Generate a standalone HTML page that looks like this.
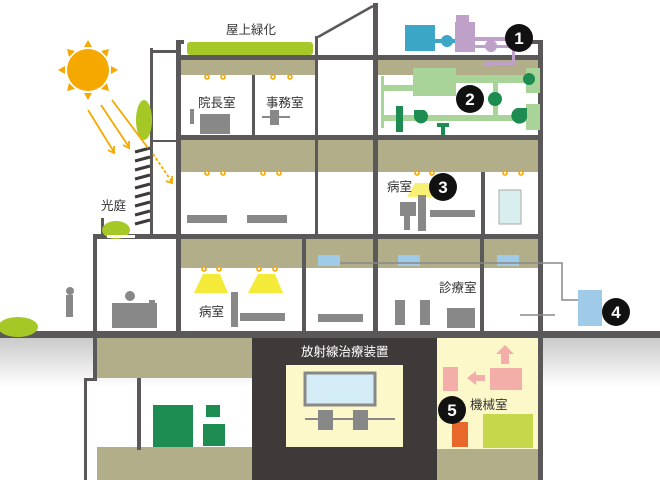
<!DOCTYPE html>
<html><head><meta charset="utf-8"><style>
html,body{margin:0;padding:0;background:#fff;}
svg{display:block;}
text{font-family:"Liberation Sans","Noto Sans CJK JP",sans-serif;fill:#333;font-size:12.5px;}
</style></head><body>
<svg width="660" height="480" viewBox="0 0 660 480" xmlns="http://www.w3.org/2000/svg">
<defs>
<linearGradient id="g" x1="0" y1="0" x2="0" y2="1"><stop offset="0" stop-color="#c9c9c9"/><stop offset="1" stop-color="#fff"/></linearGradient>
</defs>
<!-- underground gradient -->
<rect x="0" y="337" width="660" height="50" fill="url(#g)"/>
<!-- khaki bands -->
<g fill="#b3ae8a">
<rect x="181" y="60" width="134" height="15"/>
<rect x="378" y="60" width="162" height="15"/>
<rect x="181" y="140" width="359" height="32"/>
<rect x="181" y="239" width="359" height="29"/>
<rect x="97" y="338" width="155" height="40"/>
<rect x="97" y="447" width="155" height="33"/>
<rect x="437" y="449" width="103" height="31"/>
</g>
<!-- dark radiation room -->
<rect x="252" y="338" width="185" height="142" fill="#3d3a39"/>
<rect x="286" y="365" width="117" height="82" fill="#fdf8c9"/>
<rect x="437" y="338" width="103" height="111" fill="#fdf8c9"/>
<!-- structure -->
<g fill="#5a5858">
<rect x="0" y="331" width="660" height="7"/>
<rect x="176" y="40" width="5" height="293"/>
<rect x="176" y="40" width="8" height="4"/>
<rect x="315" y="36" width="3" height="100"/>
<rect x="315" y="140" width="3" height="95"/>
<rect x="373" y="3" width="5" height="330"/>
<rect x="538" y="40" width="5" height="440"/>
<rect x="530" y="40" width="10" height="4"/>
<rect x="176" y="55" width="367" height="5"/>
<rect x="176" y="135" width="367" height="5"/>
<rect x="93" y="234" width="450" height="5"/>
<rect x="252" y="75" width="3" height="60"/>
<rect x="150" y="48" width="3" height="188"/>
<rect x="150" y="50" width="28" height="3"/>
<rect x="150" y="140" width="28" height="2"/>
<rect x="93" y="234" width="4" height="99"/>
<rect x="93" y="338" width="4" height="40"/>
<rect x="84" y="378" width="13" height="3"/>
<rect x="84" y="378" width="3" height="102"/>
<rect x="302" y="239" width="4" height="94"/>
<rect x="480" y="239" width="4" height="94"/>
<rect x="481" y="172" width="4" height="62"/>
<rect x="137" y="378" width="4" height="72"/>
<rect x="101" y="218" width="3" height="17"/>
</g>
<line x1="318" y1="37" x2="373" y2="6" stroke="#5a5858" stroke-width="2.5"/>
<!-- louvers -->
<g stroke="#3d3a39" stroke-width="3">
<line x1="135" y1="152" x2="150" y2="148"/><line x1="135" y1="161" x2="150" y2="157"/><line x1="135" y1="170" x2="150" y2="166"/><line x1="135" y1="179" x2="150" y2="175"/><line x1="135" y1="188" x2="150" y2="184"/><line x1="135" y1="197" x2="150" y2="193"/><line x1="135" y1="206" x2="150" y2="202"/><line x1="135" y1="215" x2="150" y2="211"/><line x1="135" y1="224" x2="150" y2="220"/>
</g>
<!-- greenery -->
<g fill="#a5c826">
<rect x="187" y="42" width="126" height="13" rx="3"/>
<ellipse cx="144" cy="120" rx="8" ry="20"/>
<ellipse cx="116" cy="230" rx="14" ry="9"/>
<ellipse cx="18" cy="327" rx="20" ry="10"/>
</g>
<rect x="107" y="235" width="28" height="3" fill="#fff"/>
<!-- sun -->
<g fill="#f5a800">
<circle cx="88" cy="70" r="21"/>
<polygon points="88,40 84,47 92,47"/><polygon points="88,100 84,93 92,93"/><polygon points="58,70 65,66 65,74"/><polygon points="118,70 111,66 111,74"/>
<polygon points="67,49 69,57 75,51"/><polygon points="109,49 101,51 107,57"/><polygon points="67,91 75,89 69,83"/><polygon points="109,91 107,83 101,89"/>
</g>
<g stroke="#f5a800" stroke-width="1.8" fill="none">
<line x1="88" y1="110" x2="114" y2="152"/><polyline points="108,150 114,153 114,146"/>
<line x1="101" y1="105" x2="129" y2="147"/><polyline points="123,145 129,148 129,141"/>
<line x1="112" y1="100" x2="148" y2="148"/>
<line x1="153" y1="154" x2="172" y2="182" stroke-dasharray="3,2"/><polyline points="166,181 172,183 172,176"/>
</g>
<!-- roof equipment -->
<g fill="#3ba6c6"><rect x="405" y="25" width="30" height="26"/><rect x="435" y="39" width="25" height="4"/><circle cx="447" cy="41" r="6"/></g>
<g fill="#bfa0c9"><rect x="456" y="15" width="13" height="8"/><rect x="455" y="22" width="20" height="30"/><rect x="475" y="37" width="45" height="4"/><circle cx="491" cy="46" r="6"/><rect x="475" y="45" width="35" height="3"/><rect x="512" y="50" width="3" height="14"/><polygon points="482,64 490,60 490,68"/><rect x="488" y="62" width="27" height="3"/></g>
<!-- ducts -->
<g fill="#a8d49a">
<rect x="413" y="68" width="43" height="28"/><rect x="383" y="85" width="30" height="6"/><rect x="456" y="75" width="70" height="8"/><rect x="526" y="68" width="14" height="25"/>
<rect x="383" y="115" width="143" height="6"/><rect x="526" y="104" width="14" height="26"/><rect x="493" y="83" width="5" height="35"/><rect x="381" y="76" width="3" height="52"/>
</g>
<g fill="#1c8c50">
<rect x="396" y="106" width="7" height="26"/><path d="M414,110 h10 a7,7 0 1,1 -10,6z"/><rect x="437" y="123" width="12" height="4"/><rect x="441" y="126" width="4" height="9"/><path d="M517,108 h10 v10 a8,8 0 1,1 -10,-10z"/>
<circle cx="495" cy="99" r="7"/><circle cx="529" cy="79" r="6"/>
</g>
<!-- lights -->
<g fill="#fff" stroke="#f5a800" stroke-width="1.6">
<circle cx="207" cy="77" r="2"/><circle cx="223" cy="77" r="2"/><circle cx="273" cy="77" r="2"/><circle cx="290" cy="77" r="2"/>
<circle cx="207" cy="173" r="2"/><circle cx="223" cy="173" r="2"/><circle cx="263" cy="173" r="2"/><circle cx="279" cy="173" r="2"/>
<circle cx="417" cy="173" r="2"/><circle cx="432" cy="173" r="2"/><circle cx="505" cy="173" r="2"/><circle cx="521" cy="173" r="2"/>
<circle cx="204" cy="269" r="2"/><circle cx="219" cy="269" r="2"/><circle cx="259" cy="269" r="2"/><circle cx="275" cy="269" r="2"/>
</g>
<g fill="#f3ea3a"><polygon points="203,274 220,274 228,293 194,293"/><polygon points="258,274 275,274 283,293 248,293"/><polygon points="415,183 428,183 435,197 407,197" opacity=".7"/></g>
<!-- AC units -->
<g fill="#9fcbe8"><rect x="318" y="255" width="22" height="11"/><rect x="398" y="255" width="22" height="11"/><rect x="497" y="255" width="22" height="11"/><rect x="578" y="290" width="24" height="36"/></g>
<polyline points="340,263 562,263 562,300 578,300" fill="none" stroke="#888" stroke-width="1.5"/>
<line x1="520" y1="315" x2="555" y2="315" stroke="#888" stroke-width="1.5"/>
<!-- furniture gray -->
<g fill="#888">
<rect x="200" y="114" width="30" height="20"/><rect x="190" y="109" width="4" height="15"/>
<rect x="270" y="110" width="9" height="15"/><rect x="262" y="116" width="28" height="2"/>
<rect x="187" y="215" width="40" height="8"/><rect x="247" y="215" width="40" height="8"/>
<rect x="112" y="303" width="45" height="25"/><circle cx="130" cy="296" r="5"/><rect x="149" y="300" width="6" height="28"/>
<rect x="240" y="313" width="45" height="8"/><rect x="231" y="292" width="7" height="35"/>
<rect x="318" y="314" width="45" height="8"/><rect x="395" y="300" width="10" height="25"/><rect x="420" y="300" width="10" height="25"/><rect x="447" y="308" width="28" height="20"/>
<rect x="400" y="202" width="16" height="14"/><rect x="404" y="215" width="6" height="15"/><rect x="418" y="195" width="8" height="36"/><rect x="430" y="210" width="45" height="7"/>
<rect x="66" y="295" width="7" height="22"/><circle cx="70" cy="291" r="4"/>
<rect x="318" y="386" width="50" height="18" fill="#ddd"/><rect x="318" y="410" width="15" height="20"/><rect x="353" y="410" width="15" height="20"/><rect x="305" y="418" width="90" height="2"/>
</g>
<rect x="305" y="373" width="70" height="32" fill="#d4ecf5" stroke="#888" stroke-width="3"/>
<rect x="499" y="190" width="22" height="34" fill="#d9eeee" stroke="#aaa"/>
<!-- green machines -->
<g fill="#1c8c50"><rect x="153" y="405" width="40" height="42"/><rect x="206" y="405" width="14" height="12"/><rect x="203" y="424" width="22" height="22"/></g>
<!-- machine room -->
<g fill="#f3aeaa"><rect x="443" y="367" width="15" height="24"/><polygon points="467,378 476,371 476,375 485,375 485,381 476,381 476,385"/><rect x="490" y="368" width="32" height="22"/><polygon points="505,345 514,354 509,354 509,364 501,364 501,354 496,354"/></g>
<rect x="452" y="422" width="16" height="25" fill="#e8672a"/>
<rect x="483" y="414" width="50" height="34" fill="#c5d84b"/>
<!-- circles -->
<g fill="#111"><circle cx="519" cy="38" r="14"/><circle cx="470" cy="99" r="14"/><circle cx="443" cy="187" r="14"/><circle cx="616" cy="312" r="14"/><circle cx="452" cy="410" r="14"/></g>
<g fill="#fff" font-size="17" font-weight="bold" text-anchor="middle">
<text x="519" y="44" style="fill:#fff;font-size:17px">1</text><text x="470" y="105" style="fill:#fff;font-size:17px">2</text><text x="443" y="193" style="fill:#fff;font-size:17px">3</text><text x="616" y="318" style="fill:#fff;font-size:17px">4</text><text x="452" y="416" style="fill:#fff;font-size:17px">5</text>
</g>
<!-- labels -->
<text x="226" y="34">屋上緑化</text>
<text x="198" y="107">院長室</text>
<text x="266" y="107">事務室</text>
<text x="101" y="210">光庭</text>
<text x="387" y="191">病室</text>
<text x="199" y="316">病室</text>
<text x="439" y="292">診療室</text>
<text x="301" y="356" style="fill:#fff">放射線治療装置</text>
<text x="470" y="409">機械室</text>
</svg>
</body></html>
